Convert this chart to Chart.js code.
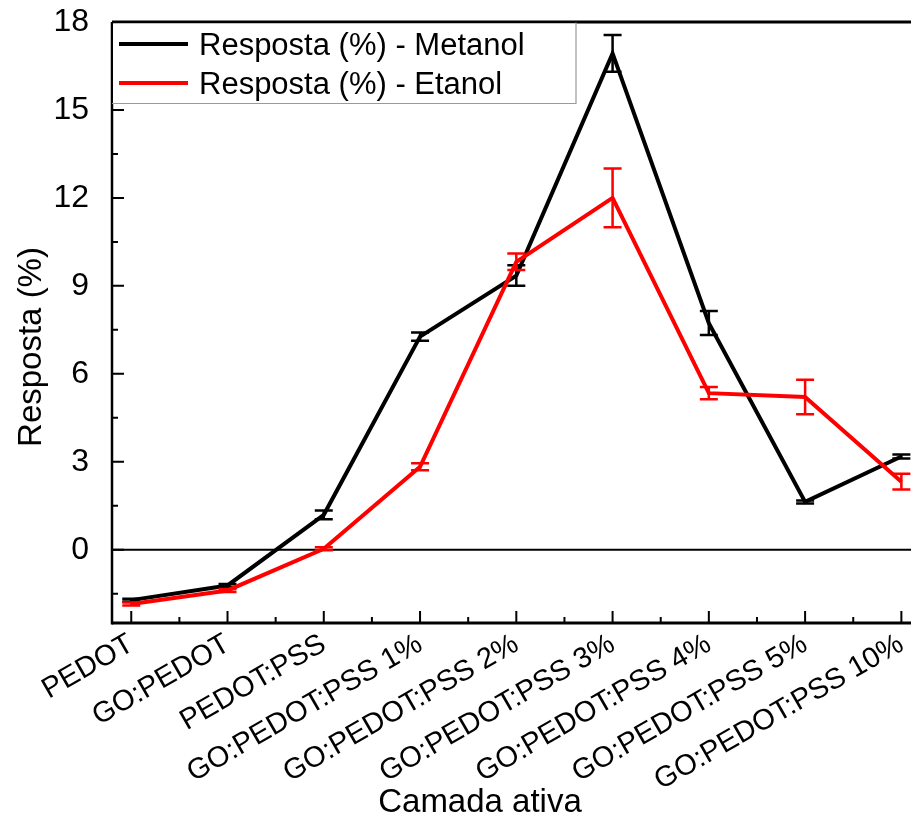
<!DOCTYPE html>
<html>
<head>
<meta charset="utf-8">
<script src="https://cdn.jsdelivr.net/npm/chart.js@4.4.1/dist/chart.umd.min.js"></script>
<style>
  html, body { margin: 0; padding: 0; background: #fff; }
  #wrap { width: 911px; height: 817px; }
</style>
</head>
<body>
<div id="wrap"><canvas id="c" width="911" height="817"></canvas></div>
<script>
// Camadas ativas testadas
const categories = [
  'PEDOT', 'GO:PEDOT', 'PEDOT:PSS', 'GO:PEDOT:PSS 1%', 'GO:PEDOT:PSS 2%',
  'GO:PEDOT:PSS 3%', 'GO:PEDOT:PSS 4%', 'GO:PEDOT:PSS 5%', 'GO:PEDOT:PSS 10%'
];
// Resposta (%) e desvio para cada vapor
const metanol    = [-1.72, -1.22, 1.19, 7.27, 9.35, 16.93, 7.73, 1.63, 3.18];
const metanolErr = [0.05, 0.05, 0.15, 0.14, 0.35, 0.63, 0.41, 0.05, 0.07];
const etanol     = [-1.85, -1.39, 0.03, 2.83, 9.82, 12.0, 5.34, 5.21, 2.32];
const etanolErr  = [0.05, 0.05, 0.05, 0.12, 0.28, 1.0, 0.21, 0.59, 0.27];
// Marcas do eixo Y
const yTicks = [0, 3, 6, 9, 12, 15, 18];
const yMinorTicks = [-1.5, 1.5, 4.5, 7.5, 10.5, 13.5, 16.5];

const FONT = "'Liberation Sans', Arial, Helvetica, sans-serif";
const errors = [metanolErr, etanolErr];

const framePlugin = {
  id: 'frame',
  beforeDraw(chart) {
    const ctx = chart.ctx;
    ctx.save();
    ctx.fillStyle = '#fff';
    ctx.fillRect(0, 0, chart.width, chart.height);
    ctx.restore();
  },
  beforeDatasetsDraw(chart) {
    const { ctx, chartArea: a, scales: { y } } = chart;
    const y0 = y.getPixelForValue(0);
    ctx.save();
    ctx.strokeStyle = '#000';
    ctx.lineWidth = 2;
    ctx.beginPath();
    ctx.moveTo(a.left, y0);
    ctx.lineTo(a.right, y0);
    ctx.stroke();
    ctx.restore();
  },
  afterDatasetDraw(chart, args) {
    const { ctx, scales: { x, y } } = chart;
    const ds = chart.data.datasets[args.index];
    const err = errors[args.index];
    ctx.save();
    ctx.strokeStyle = ds.borderColor;
    ctx.lineWidth = 2.5;
    ds.data.forEach((p, i) => {
      const px = x.getPixelForValue(p.x);
      const top = y.getPixelForValue(p.y + err[i]);
      const bot = y.getPixelForValue(p.y - err[i]);
      ctx.beginPath();
      ctx.moveTo(px, top); ctx.lineTo(px, bot);
      ctx.moveTo(px - 9, top); ctx.lineTo(px + 9, top);
      ctx.moveTo(px - 9, bot); ctx.lineTo(px + 9, bot);
      ctx.stroke();
    });
    ctx.restore();
  },
  afterDraw(chart) {
    const { ctx, chartArea: a, scales: { x, y } } = chart;
    ctx.save();
    ctx.strokeStyle = '#000';
    ctx.lineCap = 'butt';

    // ticks pointing into the plot
    ctx.lineWidth = 2;
    ctx.beginPath();
    yTicks.forEach(v => { const p = y.getPixelForValue(v); ctx.moveTo(a.left, p); ctx.lineTo(a.left + 12, p); });
    yMinorTicks.forEach(v => { const p = y.getPixelForValue(v); ctx.moveTo(a.left, p); ctx.lineTo(a.left + 6, p); });
    categories.forEach((_, i) => {
      const p = x.getPixelForValue(i);
      ctx.moveTo(p, a.bottom); ctx.lineTo(p, a.bottom - 12);
      if (i < categories.length - 1) {
        const m = x.getPixelForValue(i + 0.5);
        ctx.moveTo(m, a.bottom); ctx.lineTo(m, a.bottom - 6);
      }
    });
    ctx.stroke();

    // axis lines and top frame
    ctx.lineWidth = 3;
    ctx.beginPath();
    ctx.moveTo(a.left, a.top); ctx.lineTo(a.right, a.top);
    ctx.moveTo(a.left, a.bottom); ctx.lineTo(a.right, a.bottom);
    ctx.stroke();
    ctx.lineWidth = 2.5;
    ctx.beginPath();
    ctx.moveTo(a.left, a.top); ctx.lineTo(a.left, a.bottom + 1.5);
    ctx.stroke();

    // legend box
    const lx = a.left, ly = a.top + 1.5, lw = 464, lh = 80;
    ctx.fillStyle = '#fff';
    ctx.fillRect(lx + 1, ly, lw - 1, lh);
    ctx.strokeStyle = '#9a9a9a';
    ctx.lineWidth = 1.2;
    ctx.beginPath();
    ctx.moveTo(lx, ly + lh); ctx.lineTo(lx + lw, ly + lh); ctx.lineTo(lx + lw, ly - 1);
    ctx.stroke();
    ctx.font = '31px ' + FONT;
    ctx.textAlign = 'left';
    ctx.textBaseline = 'alphabetic';
    const rows = [44, 83];
    chart.data.datasets.forEach((ds, i) => {
      ctx.strokeStyle = ds.borderColor;
      ctx.lineWidth = 4;
      ctx.beginPath();
      ctx.moveTo(119, rows[i]); ctx.lineTo(188, rows[i]);
      ctx.stroke();
      ctx.fillStyle = '#000';
      ctx.fillText(ds.label, 199, rows[i] + 11);
    });

    // axis titles
    ctx.fillStyle = '#000';
    ctx.font = '33px ' + FONT;
    ctx.textAlign = 'center';
    ctx.textBaseline = 'alphabetic';
    ctx.fillText('Camada ativa', 480, 812);
    ctx.save();
    ctx.translate(41, 347);
    ctx.rotate(-Math.PI / 2);
    ctx.fillText('Resposta (%)', 0, 0);
    ctx.restore();

    ctx.restore();
  }
};

new Chart(document.getElementById('c'), {
  type: 'line',
  data: {
    datasets: [
      {
        label: 'Resposta (%) - Metanol',
        data: metanol.map((v, i) => ({ x: i, y: v })),
        borderColor: '#000000',
        backgroundColor: '#000000',
        borderWidth: 4,
        pointRadius: 0,
        tension: 0,
        order: 1
      },
      {
        label: 'Resposta (%) - Etanol',
        data: etanol.map((v, i) => ({ x: i, y: v })),
        borderColor: '#ff0000',
        backgroundColor: '#ff0000',
        borderWidth: 4,
        pointRadius: 0,
        tension: 0,
        order: 0
      }
    ]
  },
  options: {
    responsive: false,
    devicePixelRatio: 1,
    animation: false,
    layout: { padding: { top: 22, right: 0, bottom: 0, left: 0 } },
    plugins: { legend: { display: false }, tooltip: { enabled: false } },
    scales: {
      x: {
        type: 'linear',
        min: -0.2,
        max: 8.1,
        grid: { display: false, drawTicks: false },
        border: { display: false },
        ticks: {
          autoSkip: false,
          minRotation: 30,
          maxRotation: 30,
          padding: 4,
          color: '#000',
          font: { family: FONT, size: 29 },
          callback: v => categories[v] ?? ''
        },
        afterBuildTicks: s => { s.ticks = categories.map((_, i) => ({ value: i })); },
        afterFit: s => { s.height = 194; s.paddingLeft = 0; s.paddingRight = 0; }
      },
      y: {
        type: 'linear',
        min: -2.5,
        max: 18,
        grid: { display: false, drawTicks: false },
        border: { display: false },
        ticks: {
          padding: 23,
          color: '#000',
          font: { family: FONT, size: 32 }
        },
        afterBuildTicks: s => { s.ticks = yTicks.map(v => ({ value: v })); },
        afterFit: s => { s.width = 112; s.paddingTop = 0; s.paddingBottom = 0; }
      }
    }
  },
  plugins: [framePlugin]
});
</script>
</body>
</html>
